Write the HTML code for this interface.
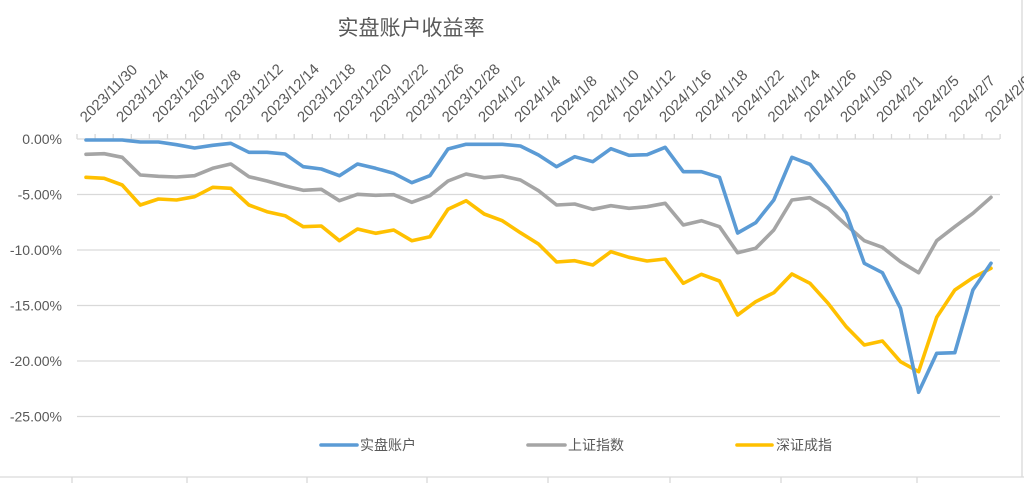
<!DOCTYPE html>
<html><head><meta charset="utf-8"><style>
html,body{margin:0;padding:0;background:#fff;overflow:hidden;}
svg{display:block;font-family:"Liberation Sans","Noto Sans CJK SC",sans-serif;}
</style></head><body>
<svg id="s" width="1024" height="483" viewBox="0 0 1024 483" xmlns="http://www.w3.org/2000/svg">
<rect width="1024" height="483" fill="#fff"/>
<text x="411" y="35" font-size="21" fill="#595959" text-anchor="middle" font-family="'Noto Sans CJK SC',sans-serif">实盘账户收益率</text>
<g stroke="#d9d9d9" stroke-width="1.3">
<line x1="77" y1="194.5" x2="1000" y2="194.5"/>
<line x1="77" y1="250" x2="1000" y2="250"/>
<line x1="77" y1="305.5" x2="1000" y2="305.5"/>
<line x1="77" y1="361" x2="1000" y2="361"/>
<line x1="77" y1="416.5" x2="1000" y2="416.5"/>
<line x1="77" y1="139" x2="1000" y2="139"/>
<line x1="0" y1="477" x2="1024" y2="477"/>
<line x1="1022" y1="0" x2="1022" y2="477"/>
</g>
<g id="ticks" stroke="#d9d9d9" stroke-width="1.3"></g>
<g stroke="#d9d9d9" stroke-width="1.3">
<line x1="72" y1="477" x2="72" y2="483"/><line x1="187" y1="477" x2="187" y2="483"/><line x1="307" y1="477" x2="307" y2="483"/><line x1="427" y1="477" x2="427" y2="483"/><line x1="548" y1="477" x2="548" y2="483"/><line x1="670" y1="477" x2="670" y2="483"/><line x1="781" y1="477" x2="781" y2="483"/><line x1="917" y1="477" x2="917" y2="483"/>
</g>
<g font-size="14" fill="#595959" text-anchor="end">
<text x="62" y="144">0.00%</text>
<text x="62" y="199.5">-5.00%</text>
<text x="62" y="255">-10.00%</text>
<text x="62" y="310.5">-15.00%</text>
<text x="62" y="366">-20.00%</text>
<text x="62" y="421.5">-25.00%</text>
</g>
<g id="xl" font-size="15" fill="#595959"></g>
<g id="lines" fill="none" stroke-width="3.6" stroke-linejoin="round" stroke-linecap="round"></g>
<g font-size="14" fill="#595959" font-family="'Noto Sans CJK SC',sans-serif">
<line x1="321" y1="445" x2="357" y2="445" stroke="#5b9bd5" stroke-width="3.6" stroke-linecap="round"/>
<text x="360" y="450">实盘账户</text>
<line x1="528" y1="445" x2="565" y2="445" stroke="#a5a5a5" stroke-width="3.6" stroke-linecap="round"/>
<text x="568" y="450">上证指数</text>
<line x1="737" y1="445" x2="772" y2="445" stroke="#ffc000" stroke-width="3.6" stroke-linecap="round"/>
<text x="776" y="450">深证成指</text>
</g>
</svg>
<script>
var NS="http://www.w3.org/2000/svg";
function el(t,a,p,txt){var e=document.createElementNS(NS,t);for(var k in a)e.setAttribute(k,a[k]);if(txt)e.textContent=txt;p.appendChild(e);return e;}
var tk=document.getElementById('ticks');
for(var k=0;k<=51;k++){var x=77+18.1*k;el('line',{x1:x,y1:134,x2:x,y2:139},tk);}
var labels=["2023/11/30","2023/12/4","2023/12/6","2023/12/8","2023/12/12","2023/12/14","2023/12/18","2023/12/20","2023/12/22","2023/12/26","2023/12/28","2024/1/2","2024/1/4","2024/1/8","2024/1/10","2024/1/12","2024/1/16","2024/1/18","2024/1/22","2024/1/24","2024/1/26","2024/1/30","2024/2/1","2024/2/5","2024/2/7","2024/2/9"];
var xl=document.getElementById('xl');
labels.forEach(function(s,j){var x=86+36.2*j,y=123;el('text',{x:x,y:y,transform:'rotate(-45 '+x+' '+y+')'},xl,s);});
var blue=[140,140,140,142,142,144.7,148,145.3,143.3,152.3,152.3,154,166.7,169,175.7,164,168.3,173.3,182.7,175.7,149,144.3,144.3,144.3,146,155,166.7,156.7,161.7,148.7,155.3,154.7,147.3,171.7,171.7,177.3,233,222.7,200,157.3,164.3,186.7,213,263.3,272.7,308.3,392.3,353.3,352.7,290,263.3];
var grey=[154.3,153.7,157.3,175,176.3,177,175.7,168.3,164,176.7,181,186,190.3,189.3,200.7,194.3,195.3,194.7,202.3,195.7,181,174,177.7,176,180,190.7,205,204,209.3,205.7,208.3,206.7,203.3,225,220.7,226.7,252.7,248.3,230,200,197.7,208.3,225,240.7,247.3,261.7,272.7,240.7,226.7,213.3,197.3];
var yel=[177.3,178.3,185,205,199,200,196.7,187.3,188.3,205,211.7,215.7,226.7,226,240.7,229,233.3,230,240.7,236.7,209.3,200.7,214,220.7,232.7,244,262,260.7,265,251.7,257.3,261,259,283.3,274.3,281,315,301.7,292.7,274,283.3,303.3,326.7,345,341,361.7,371.7,317.3,290,277.7,268.3];
var g=document.getElementById('lines');
[[grey,'#a5a5a5'],[yel,'#ffc000'],[blue,'#5b9bd5']].forEach(function(p){
var pts=p[0].map(function(v,i){return (86+18.1*i).toFixed(1)+','+v;}).join(' ');
el('polyline',{points:pts,stroke:p[1]},g);});
</script>
</body></html>
